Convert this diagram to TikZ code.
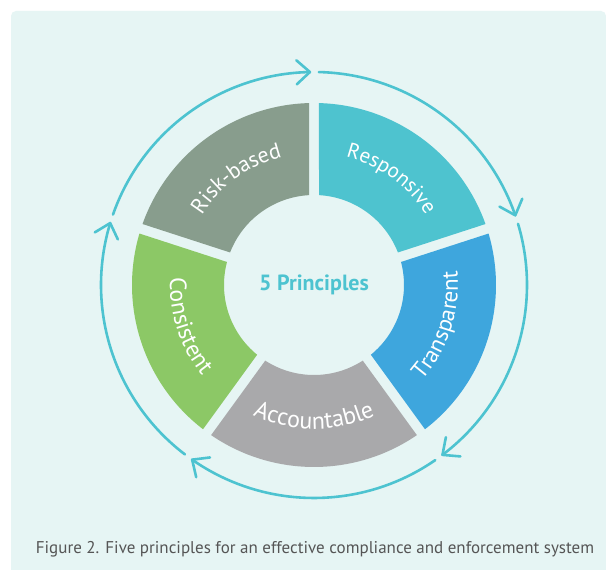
\documentclass[tikz,border=0pt]{standalone}
\usepackage{fontspec}
\setmainfont{PT Sans}
\usetikzlibrary{decorations.text}
\definecolor{bgmint}{RGB}{230,245,244}
\definecolor{riskc}{RGB}{136,157,141}
\definecolor{respc}{RGB}{78,195,207}
\definecolor{transc}{RGB}{62,166,221}
\definecolor{accc}{RGB}{169,169,171}
\definecolor{consc}{RGB}{140,200,102}
\definecolor{arrowc}{RGB}{77,195,208}
\definecolor{capc}{RGB}{85,85,85}
\tikzset{
  ringarc/.style={draw=arrowc, line width=2.6pt, line cap=round, line join=round},
  segtext/.style 2 args={decorate, decoration={text along path, text align=center,
      text={|\color{white}\fontsize{#1}{26}\selectfont|#2}}}
}
\begin{document}
\begin{tikzpicture}[x=1pt,y=1pt]
\useasboundingbox (0,0) rectangle (606,570);
\clip (0,0) rectangle (606,570);
\fill[white] (0,0) rectangle (606,570);
\fill[bgmint, rounded corners=5pt] (11,-10) rectangle (606,559);
\begin{scope}[shift={(314,285)}]
  % segments
  \foreach \a/\col in {90/riskc, 18/respc, -54/transc, -126/accc, -198/consc} {
    \fill[\col] ({\a+1.574}:182) arc[start angle=\a+1.574, end angle=\a+72-1.574, radius=182]
      -- ({\a+72-3.185}:90) arc[start angle=\a+72-3.185, end angle=\a+3.185, radius=90] -- cycle;
  }
  % outer cycle arrows
  \foreach \g in {90,18,-54,-126,-198} {
    \draw[ringarc] ({\g+70.7}:213) arc[start angle=\g+70.7, end angle=\g+1.1, radius=213];
    \draw[ringarc] ({\g+1.1}:213) ++({\g+1.1+132}:18) -- ({\g+1.1}:213) -- ++({\g+1.1+48}:18);
  }
  % curved labels
  \path[segtext={22}{Risk-based}] (166:132) arc[start angle=166, end angle=86, radius=132];
  \path[segtext={21}{Responsive}] (94:132) arc[start angle=94, end angle=14, radius=132];
  \path[segtext={23}{Transparent}] (-58:144) arc[start angle=-58, end angle=22, radius=144];
  \path[segtext={24}{Accountable}] (-130:144) arc[start angle=-130, end angle=-50, radius=144];
  \path[segtext={23.5}{Consistent}] (158:144) arc[start angle=158, end angle=238, radius=144];
  \node[font=\fontsize{22}{26}\selectfont\bfseries, text=arrowc] (centre) at (0,0) {5 Principles};
\end{scope}
\node[font=\fontsize{17}{20}\selectfont, text=capc] (caption) at (315,21) {Figure 2. Five principles for an effective compliance and enforcement system};
\end{tikzpicture}
\end{document}
